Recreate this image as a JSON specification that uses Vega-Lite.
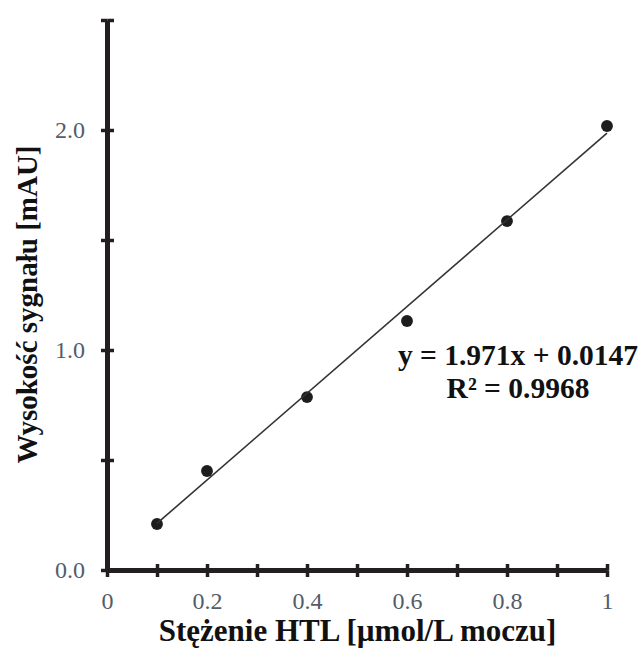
{
  "$schema": "https://vega.github.io/schema/vega-lite/v6.json",
  "autosize": {"type": "none"},
  "padding": {"left": 107, "top": 20, "right": 33, "bottom": 80},
  "width": 500,
  "height": 550,
  "background": "white",
  "config": {
    "view": {"stroke": null},
    "font": "Liberation Serif",
    "axis": {"grid": false}
  },
  "datasets": {
    "points": [
      {"c": 0.1, "s": 0.209},
      {"c": 0.2, "s": 0.45},
      {"c": 0.4, "s": 0.786},
      {"c": 0.6, "s": 1.132},
      {"c": 0.8, "s": 1.586},
      {"c": 1.0, "s": 2.018}
    ],
    "fit": [
      {"c": 0.1, "s": 0.2118},
      {"c": 1.0, "s": 1.9857}
    ],
    "eq": [
      {"c": 0.822, "s": 0.973, "t": "y = 1.971x + 0.0147"},
      {"c": 0.822, "s": 0.823, "t": "R² = 0.9968"}
    ]
  },
  "resolve": {"axis": {"x": "independent", "y": "independent"}},
  "layer": [
    {
      "data": {"name": "points"},
      "mark": {"type": "circle", "size": 140, "color": "#1f1c1d", "opacity": 1},
      "encoding": {
        "x": {
          "field": "c", "type": "quantitative",
          "scale": {"domain": [0, 1], "nice": false},
          "axis": {
            "orient": "bottom",
            "title": "Stężenie HTL [µmol/L moczu]",
            "values": [0, 0.1, 0.2, 0.3, 0.4, 0.5, 0.6, 0.7, 0.8, 0.9, 1],
            "labelExpr": "round(datum.value*10) % 2 === 0 ? format(datum.value, '~g') : ''",
            "labelFont": "Liberation Serif",
            "labelFontSize": 24,
            "labelColor": "#545c6b",
            "labelPadding": 13,
            "labelFlush": false,
            "labelOverlap": false,
            "tickSize": 6.5,
            "tickWidth": 3.5,
            "tickColor": "#231f20",
            "domainWidth": 5,
            "domainColor": "#231f20",
            "titleFont": "Liberation Serif",
            "titleFontSize": 31,
            "titleFontWeight": "bold",
            "titleColor": "#111111",
            "titlePadding": 3
          }
        },
        "y": {
          "field": "s", "type": "quantitative",
          "scale": {"domain": [0, 2.5], "nice": false},
          "axis": {
            "orient": "left",
            "title": "Wysokość sygnału [mAU]",
            "values": [0, 0.5, 1, 1.5, 2, 2.5],
            "labelExpr": "datum.value === 0 || datum.value === 1 || datum.value === 2 ? format(datum.value, '.1f') : ''",
            "labelFont": "Liberation Serif",
            "labelFontSize": 24,
            "labelColor": "#545c6b",
            "labelPadding": 16,
            "labelFlush": false,
            "labelOverlap": false,
            "tickSize": 6.5,
            "tickWidth": 3.5,
            "tickColor": "#231f20",
            "domainWidth": 5,
            "domainColor": "#231f20",
            "titleFont": "Liberation Serif",
            "titleFontSize": 29,
            "titleFontWeight": "bold",
            "titleColor": "#111111",
            "titlePadding": 12,
            "titleY": 284
          }
        }
      }
    },
    {
      "data": {"name": "fit"},
      "mark": {"type": "line", "color": "#333333", "strokeWidth": 1.6},
      "encoding": {
        "x": {
          "field": "c", "type": "quantitative",
          "scale": {"domain": [0, 1], "nice": false},
          "axis": {
            "orient": "bottom",
            "title": null,
            "values": [0, 0.1, 0.2, 0.3, 0.4, 0.5, 0.6, 0.7, 0.8, 0.9, 1],
            "labels": false,
            "domain": false,
            "tickSize": -6.5,
            "tickWidth": 3.5,
            "tickColor": "#231f20"
          }
        },
        "y": {
          "field": "s", "type": "quantitative",
          "scale": {"domain": [0, 2.5], "nice": false},
          "axis": {
            "orient": "left",
            "title": null,
            "values": [0, 0.5, 1, 1.5, 2, 2.5],
            "labels": false,
            "domain": false,
            "tickSize": -6.5,
            "tickWidth": 3.5,
            "tickColor": "#231f20"
          }
        }
      }
    },
    {
      "data": {"name": "eq"},
      "mark": {"type": "text", "font": "Liberation Serif", "fontSize": 29.5, "fontWeight": "bold", "color": "#111111", "align": "center", "baseline": "middle"},
      "encoding": {
        "x": {"field": "c", "type": "quantitative", "axis": null},
        "y": {"field": "s", "type": "quantitative", "axis": null},
        "text": {"field": "t"}
      }
    }
  ]
}
